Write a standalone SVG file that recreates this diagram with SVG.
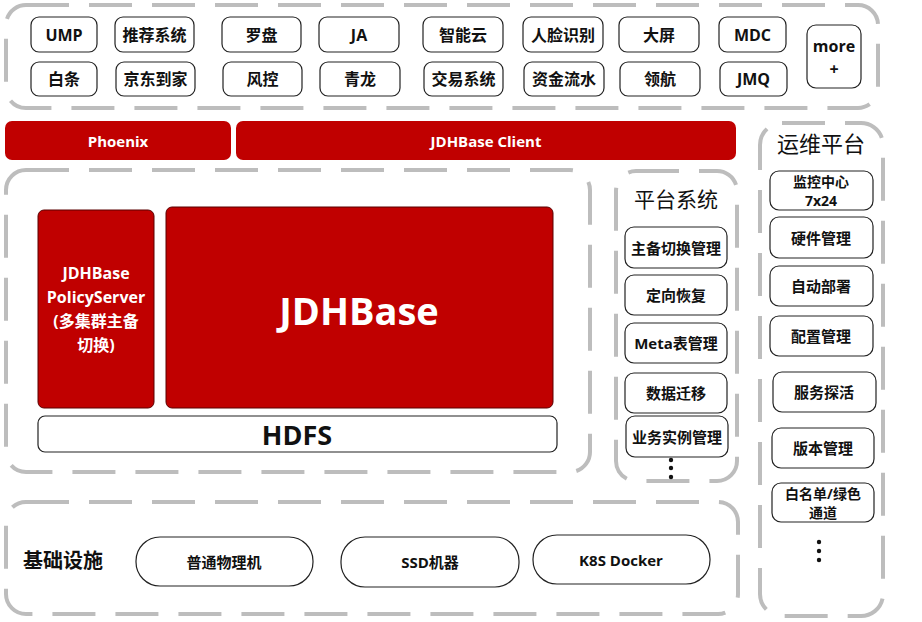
<svg xmlns="http://www.w3.org/2000/svg" width="922" height="622" viewBox="0 0 922 622">
<style>
.dash{fill:none;stroke:#bdbdbd;stroke-width:4;stroke-dasharray:43 20}
.box{fill:#fff;stroke:#222;stroke-width:1.2}
.red{fill:#c00000;stroke:#5a0000;stroke-width:1}
.bar{fill:#c00000}
text{font-family:"Open Sans","Noto Sans CJK SC",sans-serif;font-weight:bold;text-anchor:middle;dominant-baseline:central;fill:#111}
.t16{font-size:16px}
.t15{font-size:15px}
.t14{font-size:14px}
.w{fill:#fff}
.title{font-weight:normal;font-size:21px}
.dot{fill:#111}
</style>
<rect width="922" height="622" fill="#fff"/>
<g id="containers">
<rect class="dash" x="6" y="5" width="872" height="103" rx="20"/>
<rect class="dash" x="6" y="170" width="584" height="302" rx="20"/>
<rect class="dash" x="616" y="171" width="121" height="310" rx="20"/>
<rect class="dash" x="760" y="123" width="123" height="493" rx="22"/>
<rect class="dash" x="6" y="502" width="732" height="112" rx="20"/>
</g>
<g id="apps">
<g id="ump"><rect class="box" x="31" y="17" width="66" height="35" rx="8"/><text class="t16" x="64" y="35">UMP</text></g>
<g id="tuijian"><rect class="box" x="115" y="17" width="79" height="35" rx="8"/><text class="t16" x="154.5" y="35">推荐系统</text></g>
<g id="luopan"><rect class="box" x="222" y="17" width="79" height="35" rx="8"/><text class="t16" x="261.5" y="35">罗盘</text></g>
<g id="ja"><rect class="box" x="319" y="17" width="80" height="35" rx="8"/><text class="t16" x="359" y="35">JA</text></g>
<g id="zhinengyun"><rect class="box" x="423" y="17" width="80" height="35" rx="8"/><text class="t16" x="463" y="35">智能云</text></g>
<g id="renlian"><rect class="box" x="523" y="17" width="80" height="35" rx="8"/><text class="t16" x="563" y="35">人脸识别</text></g>
<g id="daping"><rect class="box" x="619" y="17" width="80" height="35" rx="8"/><text class="t16" x="659" y="35">大屏</text></g>
<g id="mdc"><rect class="box" x="719" y="17" width="67" height="35" rx="8"/><text class="t16" x="752.5" y="35">MDC</text></g>
<g id="baitiao"><rect class="box" x="31" y="62" width="66" height="34" rx="8"/><text class="t16" x="64" y="79">白条</text></g>
<g id="daojia"><rect class="box" x="116" y="62" width="79" height="34" rx="8"/><text class="t16" x="155.5" y="79">京东到家</text></g>
<g id="fengkong"><rect class="box" x="223" y="62" width="79" height="34" rx="8"/><text class="t16" x="262.5" y="79">风控</text></g>
<g id="qinglong"><rect class="box" x="320" y="62" width="80" height="34" rx="8"/><text class="t16" x="360" y="79">青龙</text></g>
<g id="jiaoyi"><rect class="box" x="424" y="62" width="79" height="34" rx="8"/><text class="t16" x="463.5" y="79">交易系统</text></g>
<g id="zijin"><rect class="box" x="524" y="62" width="80" height="34" rx="8"/><text class="t16" x="564" y="79">资金流水</text></g>
<g id="linghang"><rect class="box" x="620" y="62" width="80" height="34" rx="8"/><text class="t16" x="660" y="79">领航</text></g>
<g id="jmq"><rect class="box" x="720" y="62" width="67" height="34" rx="8"/><text class="t16" x="753.5" y="79">JMQ</text></g>
<g id="more"><rect class="box" x="807" y="25" width="54" height="63" rx="9"/><text class="t16" x="834" y="46">more</text><text class="t16" x="834" y="69">+</text></g>
</g>
<g id="phoenix"><rect class="bar" x="5" y="121" width="226" height="39" rx="7"/><text class="t15 w" x="118" y="141">Phoenix</text></g>
<g id="client"><rect class="bar" x="236" y="121" width="500" height="39" rx="7"/><text class="t15 w" x="486" y="141">JDHBase Client</text></g>
<g id="policyserver"><rect class="red" x="38" y="210" width="116" height="198" rx="6"/>
<text class="t16 w" x="96" y="273">JDHBase</text><text class="t16 w" x="96" y="297">PolicyServer</text><text class="t16 w" x="96" y="321">(多集群主备</text><text class="t16 w" x="96" y="345">切换)</text></g>
<g id="jdhbase"><rect class="red" x="166" y="207" width="387" height="201" rx="6"/><text class="w" style="font-size:38px" x="359" y="310">JDHBase</text></g>
<g id="hdfs"><rect class="box" x="38" y="416" width="519" height="36" rx="7"/><text style="font-size:27px" x="297" y="434">HDFS</text></g>
<g id="platform">
<text class="title" x="676" y="199">平台系统</text>
<g id="p1"><rect class="box" x="625" y="227" width="102" height="41" rx="9"/><text class="t15" x="676" y="248">主备切换管理</text></g>
<g id="p2"><rect class="box" x="625" y="275" width="102" height="40" rx="9"/><text class="t15" x="676" y="295">定向恢复</text></g>
<g id="p3"><rect class="box" x="625" y="323" width="102" height="40" rx="9"/><text class="t15" x="676" y="343">Meta表管理</text></g>
<g id="p4"><rect class="box" x="625" y="373" width="102" height="40" rx="9"/><text class="t15" x="676" y="393">数据迁移</text></g>
<g id="p5"><rect class="box" x="626" y="416" width="102" height="41" rx="9"/><text class="t15" x="677" y="437">业务实例管理</text></g>
<circle class="dot" cx="671" cy="460" r="2.2"/><circle class="dot" cx="671" cy="468" r="2.2"/><circle class="dot" cx="671" cy="477" r="2.2"/>
</g>
<g id="ops">
<text class="title" style="font-size:22px" x="821" y="143">运维平台</text>
<g id="o1"><rect class="box" x="770" y="171" width="103" height="39" rx="9"/><text class="t14" x="821" y="181">监控中心</text><text class="t14" x="821" y="200">7x24</text></g>
<g id="o2"><rect class="box" x="770" y="217" width="103" height="41" rx="9"/><text class="t15" x="821" y="238">硬件管理</text></g>
<g id="o3"><rect class="box" x="770" y="266" width="103" height="40" rx="9"/><text class="t15" x="821" y="286">自动部署</text></g>
<g id="o4"><rect class="box" x="770" y="316" width="103" height="40" rx="9"/><text class="t15" x="821" y="336">配置管理</text></g>
<g id="o5"><rect class="box" x="773" y="372" width="103" height="40" rx="9"/><text class="t15" x="824" y="392">服务探活</text></g>
<g id="o6"><rect class="box" x="772" y="428" width="102" height="40" rx="9"/><text class="t15" x="823" y="448">版本管理</text></g>
<g id="o7"><rect class="box" x="772" y="483" width="102" height="39" rx="9"/><text class="t14" x="823" y="493">白名单/绿色</text><text class="t14" x="823" y="512">通道</text></g>
<circle class="dot" cx="819" cy="542" r="2.2"/><circle class="dot" cx="819" cy="551" r="2.2"/><circle class="dot" cx="819" cy="560" r="2.2"/>
</g>
<g id="infra">
<text style="font-size:20px" x="63" y="560">基础设施</text>
<g id="i1"><rect class="box" x="136" y="537" width="177" height="49" rx="24"/><text class="t15" x="224" y="562">普通物理机</text></g>
<g id="i2"><rect class="box" x="341" y="537" width="178" height="50" rx="24"/><text class="t15" x="430" y="562">SSD机器</text></g>
<g id="i3"><rect class="box" x="533" y="535" width="177" height="49" rx="24"/><text class="t15" x="621" y="560">K8S Docker</text></g>
</g>
</svg>
